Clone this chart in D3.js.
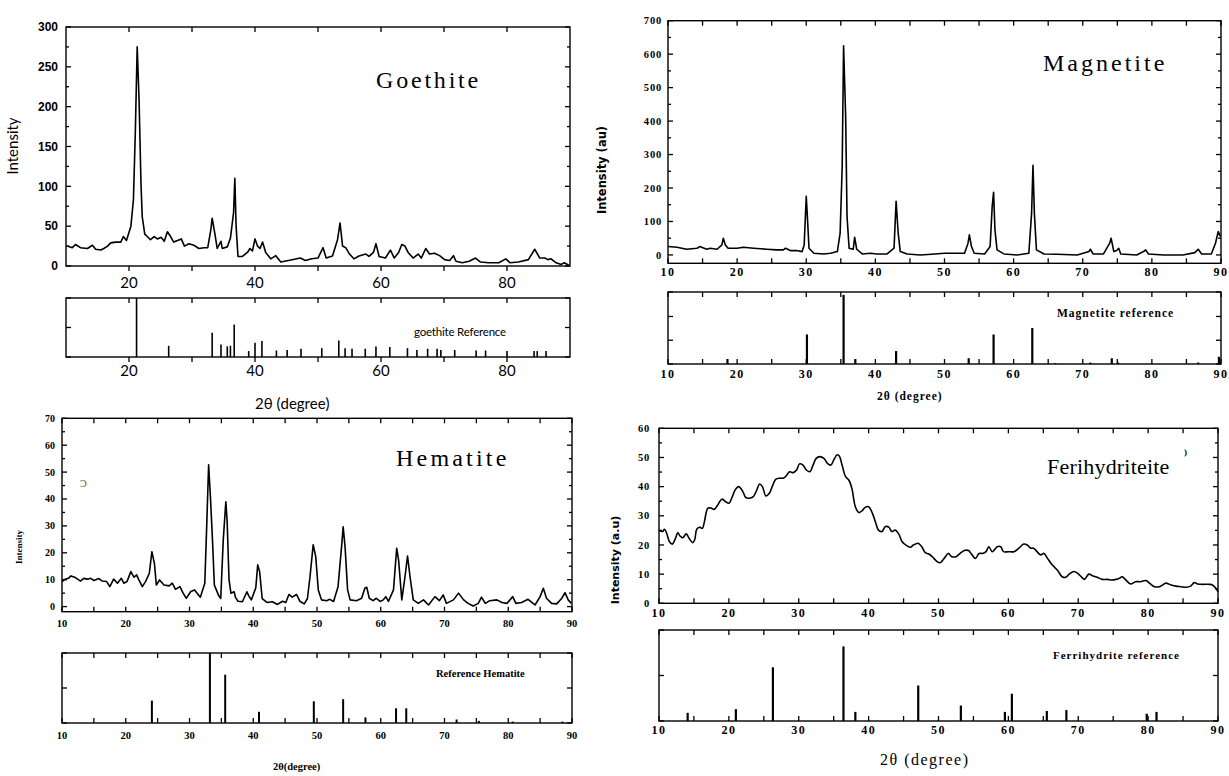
<!DOCTYPE html>
<html>
<head>
<meta charset="utf-8">
<script src="https://cdn.jsdelivr.net/npm/d3@7"></script>
<style>
  body { margin: 0; background: #fff; }
  svg { display: block; }
</style>
</head>
<body>
<svg id="canvas" width="1229" height="776"></svg>
<script>
// ---- measured patterns, [2theta, intensity] ----
const goethitePattern = [[10.2,25],[11,23],[11.5,27],[12.3,23],[13.4,22],[14.2,26],[14.7,21],[15.5,20],[16,22],[16.6,25],[17.1,29],[17.9,30],[18.7,30],[19.1,37],[19.6,32],[20.3,50],[20.7,83],[21.0,167],[21.3,275],[21.6,208],[21.9,104],[22.1,62],[22.5,40],[22.9,37],[23.4,33],[24,37],[24.5,34],[25.1,36],[25.6,31],[26.1,43],[26.6,37],[27.1,30],[27.7,32],[28.3,34],[28.8,25],[29.5,28],[30.3,26],[31.1,22],[31.9,23],[32.5,23],[33.0,46],[33.2,60],[33.6,42],[34.0,22],[34.6,31],[34.8,22],[35.6,24],[36.1,35],[36.6,67],[36.8,110],[37.0,50],[37.3,12],[38.0,12],[38.8,17],[39.2,22],[39.6,19],[40.0,34],[40.4,25],[40.8,22],[41.2,30],[41.7,17],[42.5,9],[43.3,13],[44.1,5],[45.7,7.5],[47.2,10],[48,7],[49,9],[50,10],[50.8,23],[51.3,10],[52.3,12.5],[53.1,33],[53.5,54],[53.9,25],[54.4,23],[55,15],[55.7,9],[56.5,12.5],[57.6,15],[58.1,12],[58.8,17],[59.2,28],[59.7,12],[60.7,10],[61.5,20],[62.1,10],[62.8,17],[63.3,27],[63.8,25],[64.3,17],[65.1,10],[65.9,15],[66.4,10],[67.1,22],[67.7,15],[68.5,16],[69.3,13],[70.1,8],[70.9,7],[71.5,13],[71.9,6],[72.9,4],[74,6],[75,10],[75.8,5],[77.1,4],[78.7,4],[79.8,9],[80.5,4],[81.8,5],[83.4,8],[84.4,21],[85.2,10],[86,10],[86.5,8],[87,9],[87.8,4],[88.6,2],[89.1,4],[89.8,1]];

const magnetitePattern = [[10,25],[11.3,23],[12.7,17],[14.2,20],[14.6,25],[15.6,17],[16.1,20],[17.1,17],[17.8,30],[18.0,50],[18.3,30],[18.7,20],[20,20],[20.9,23],[22.4,20],[24.3,17],[25.7,15],[26.7,15],[27,20],[27.7,13],[28.6,13],[29.4,10],[29.7,30],[30.0,175],[30.2,100],[30.4,20],[31.1,5],[32.5,3],[33.5,5],[34.5,10],[34.9,65],[35.2,265],[35.4,625],[35.7,415],[35.9,115],[36.2,20],[36.8,17],[37.0,53],[37.3,17],[38.1,3],[39.3,5],[40.2,3],[41.7,3],[42.7,20],[43.0,160],[43.3,65],[43.6,10],[44.6,3],[46.5,0],[48.1,2],[50,5],[52.9,5],[53.4,35],[53.6,60],[53.9,25],[54.3,5],[55.8,3],[56.6,25],[56.9,145],[57.1,187],[57.3,75],[57.6,15],[58.6,3],[60.5,0],[62.2,5],[62.6,125],[62.8,268],[63.0,125],[63.3,15],[64.4,3],[66.3,2],[69.2,0],[70.9,10],[71.1,17],[71.5,3],[73,3],[73.9,35],[74.1,50],[74.5,10],[74.9,13],[75.2,20],[75.5,3],[77.8,0],[78.8,10],[79.1,15],[79.5,3],[81.7,0],[84.5,0],[86.2,7],[86.7,17],[87.2,3],[88.6,3],[89.2,35],[89.6,70],[89.9,55]];

const hematitePattern = [[10,9.3],[10.5,10.2],[11.0,10.5],[11.4,11.4],[12.1,10.8],[12.9,9.5],[13.4,10.5],[14.0,10.2],[14.5,10.5],[15.0,9.7],[15.8,10.4],[16.3,9.5],[17.0,9.3],[17.5,7.4],[18.1,10.2],[18.7,8.7],[19.3,10.5],[19.7,8.7],[20.2,9.3],[20.8,13],[21.3,10.9],[21.7,11.8],[22.0,10.2],[22.6,7.4],[23.1,9.3],[23.7,12.4],[24.1,20.4],[24.5,16],[24.8,8],[25.3,9.9],[26.0,8],[26.8,7.7],[27.3,8.7],[27.8,6.4],[28.5,7.4],[29.0,5],[29.5,3.1],[30.2,5.6],[30.8,6.2],[31.2,5],[31.7,3.5],[32.4,8.7],[32.7,30],[33.0,52.7],[33.3,40],[33.6,25],[33.9,8],[34.6,4],[34.9,3],[35.3,25],[35.7,39],[35.9,32],[36.2,10],[36.5,5],[37.0,5.5],[37.2,3.5],[37.6,2],[38.3,1.8],[39.0,5.5],[39.3,4],[39.7,2.5],[40.4,7],[40.7,15.5],[41.0,13],[41.4,3],[42.2,1.5],[43.0,1.8],[43.8,0.8],[44.6,2],[45.1,1.5],[45.6,4.5],[46.1,3.5],[46.8,4.5],[47.3,2],[48.0,1],[48.5,3],[48.9,11],[49.4,23],[49.8,18.6],[50.2,6.2],[50.7,2.5],[51.5,2.2],[52,2.7],[52.6,1.9],[53.3,7.4],[53.9,23.5],[54.1,29.7],[54.4,22.3],[54.8,6.2],[55.2,2.5],[56.2,2.2],[57.0,3.1],[57.5,6.8],[57.8,7.2],[58.2,3.1],[58.8,2.2],[59.3,3.1],[59.9,1.9],[60.4,2.5],[60.8,3.7],[61.2,1.9],[62.0,6.2],[62.5,21.7],[62.8,17.3],[63.3,2.5],[63.8,11],[64.2,18.8],[64.6,11],[65.1,2.5],[65.9,1.2],[66.7,2.5],[67.5,0.6],[68.5,3.7],[69.2,2.2],[69.8,4.3],[70.3,1.2],[71.4,2.5],[72.2,5],[73.0,2.5],[73.7,1.2],[74.5,0.2],[75.3,1.2],[75.8,3.5],[76.4,1.2],[77.1,2.2],[78.2,2.5],[79.0,1.5],[79.8,1.2],[80.7,3.7],[81.2,1.2],[82.1,1.5],[83.1,2.7],[84.2,0.6],[85.0,3.7],[85.5,6.8],[86.0,3.1],[86.8,1.2],[87.6,1],[88.4,3.1],[88.9,5.2],[89.4,2.5],[89.9,1.2]];

const ferrihydritePattern = [[10,25.1],[10.5,24.6],[10.8,25.4],[11.1,24],[11.5,21.1],[11.9,20.3],[12.3,21.9],[12.7,24.2],[13,23.1],[13.4,22.5],[13.9,23.8],[14.3,22.3],[14.8,20.8],[15.1,21.7],[15.4,25.4],[15.8,26.1],[16.2,25.7],[16.5,28],[17,32.6],[17.5,32.6],[17.9,32.2],[18.4,33.7],[19,35.7],[19.5,34.9],[20,34.3],[20.5,36.6],[20.9,38.9],[21.4,40],[22,38.3],[22.4,36.3],[22.9,36],[23.5,36.6],[24,38.9],[24.4,40.9],[24.8,40],[25.3,36.8],[25.8,37.7],[26.2,40],[26.7,42.5],[27.3,42.9],[27.8,42.9],[28.2,43.7],[28.7,45.1],[29.2,44.8],[29.7,45.7],[30.1,47.8],[30.6,47.4],[31.1,45.7],[31.6,45.1],[32,47.1],[32.5,49.7],[33,50.3],[33.6,49.7],[34.1,48],[34.6,47.4],[35,49.1],[35.5,50.9],[35.8,50.5],[36.2,47.4],[36.7,43.4],[37.2,42.1],[37.6,39.4],[38.1,33.1],[38.6,31.1],[39.1,31.8],[39.5,32.9],[40,33.1],[40.5,31.1],[41,27.7],[41.4,25.1],[41.9,24.6],[42.4,26.3],[42.9,26.1],[43.3,24.6],[43.8,25.1],[44.3,23.8],[44.8,21.1],[45.5,19.7],[46,19.2],[46.4,20],[47.1,20.6],[47.6,19.4],[48.1,17.4],[48.6,16.9],[49.1,16],[49.8,14.3],[50.2,13.9],[51,16],[51.4,17.1],[51.9,16],[52.5,16],[53.1,17.1],[53.7,18.1],[54.3,18.1],[54.8,16.6],[55.3,15.4],[55.8,17.1],[56.3,17.1],[56.8,17.7],[57.2,19.4],[57.7,17.7],[58.4,19.4],[58.9,19.4],[59.3,17.7],[60,17.7],[60.8,17.7],[61.5,18.9],[62.2,20.3],[62.7,20],[63.2,18.9],[63.6,18.9],[64.1,17.7],[64.6,16.6],[65.1,17.1],[65.6,15.4],[66.3,13.1],[67,11.4],[67.7,9.1],[68.2,8.9],[68.7,10],[69.4,10.9],[69.9,10.3],[70.5,8.9],[70.9,8.2],[71.5,10],[72.1,9.4],[72.7,8.9],[73.4,8.2],[74.2,8.2],[74.8,8],[75.4,8.2],[75.9,8.6],[76.3,9.1],[76.8,8],[77.5,6.6],[78.2,7.4],[78.9,7.4],[79.7,7.8],[80.2,6.9],[80.9,5.7],[81.6,5.7],[82.1,6.3],[82.5,6.9],[83.3,6.3],[84,5.9],[84.7,5.7],[85.4,5.5],[86.1,5.9],[86.6,7.1],[87.1,6.6],[87.8,6.5],[88.8,6.5],[89.2,6.3],[89.7,5.1],[90,4]];

// ---- reference stick patterns, [2theta, relative height %] ----
const goethiteRef = [[21.2,100],[26.3,19],[33.2,41],[34.6,21],[35.6,18],[36.1,19],[36.7,55],[39.0,10],[40.0,24],[41.1,27],[43.4,11],[45.1,12],[47.3,14],[50.6,15],[53.3,28],[54.3,15],[55.4,14],[57.5,14],[59.2,18],[61.4,17],[64.2,15],[65.7,12],[67.4,14],[68.9,14],[69.5,12],[71.7,12],[75.1,11],[76.6,11],[80.0,10],[84.3,10],[84.8,10],[86.2,10]];
const magnetiteRef = [[18.6,7],[30.1,41],[35.4,96],[37.1,7],[43.0,18],[53.5,8],[57.1,41],[62.7,50],[66.0,1],[71.1,2],[74.2,8],[75.1,2],[86.7,2],[89.7,10]];
const hematiteRef = [[24.1,32],[33.2,100],[35.6,69],[40.9,16],[49.5,31],[54.1,34],[57.6,8],[62.4,21],[64.0,21],[71.9,5],[75.4,3],[80.7,2],[88.5,2]];
const ferrihydriteRef = [[14.1,9],[21.0,13],[26.3,59],[36.4,82],[38.1,10],[47.1,39],[53.2,17],[59.5,10],[60.5,30],[65.5,11],[68.3,12],[79.8,8],[81.2,10]];

// ---- tick values ----
const goethiteXLabels = [20, 40, 60, 80];
const goethiteYLabels = [0, 50, 100, 150, 200, 250, 300];
const magnetiteYLabels = [0, 100, 200, 300, 400, 500, 600, 700];
const hematiteYLabels = [0, 10, 20, 30, 40, 50, 60, 70];
const ferrihydriteYLabels = [0, 10, 20, 30, 40, 50, 60];
const decadeLabels = [10, 20, 30, 40, 50, 60, 70, 80, 90];

const canvas = d3.select("#canvas");
const serif = "'Liberation Serif','Times New Roman',serif";
const sans = "Lato,'Open Sans',sans-serif";
const arial = "'Liberation Sans',Arial,sans-serif";

//Draws one framed box: border plus ticks on all four sides
const drawFrame = (g, x, y, o) => {
    const [x0, x1] = x.range();
    const [yb, yt] = y.range();
    g.append("rect")
        .attr("x", x0).attr("y", yt)
        .attr("width", x1 - x0).attr("height", yb - yt)
        .attr("fill", "none").attr("stroke", "#000").attr("stroke-width", 1.4);

    //ticks on x: bottom and top
    const xt = o.xTicks;
    g.selectAll(null).data(xt).enter().append("line")
        .attr("x1", d => x(d)).attr("x2", d => x(d))
        .attr("y1", yb).attr("y2", yb + (o.bottomOut ? 5 : -5))
        .attr("stroke", "#000").attr("stroke-width", 1.3);
    g.selectAll(null).data(xt).enter().append("line")
        .attr("x1", d => x(d)).attr("x2", d => x(d))
        .attr("y1", yt).attr("y2", yt + 5)
        .attr("stroke", "#000").attr("stroke-width", 1.3);

    //ticks on y: left and right, pointing inside
    const yt2 = o.yTicks;
    g.selectAll(null).data(yt2).enter().append("line")
        .attr("x1", x0).attr("x2", d => x0 + (o.yMajor.includes(d) ? 5 : 3))
        .attr("y1", d => y(d)).attr("y2", d => y(d))
        .attr("stroke", "#000").attr("stroke-width", 1.3);
    g.selectAll(null).data(yt2).enter().append("line")
        .attr("x1", x1).attr("x2", d => x1 - (o.yMajor.includes(d) ? 5 : 3))
        .attr("y1", d => y(d)).attr("y2", d => y(d))
        .attr("stroke", "#000").attr("stroke-width", 1.3);

    //x tick labels
    if (o.xLabels) {
        g.selectAll(null).data(o.xLabels).enter().append("text")
            .attr("x", d => x(d)).attr("y", yb + o.xLabelDy)
            .attr("text-anchor", "middle")
            .style("font-family", o.font).style("font-size", o.xFontSize + "px")
            .style("font-weight", o.bold ? "bold" : "normal")
            .style("letter-spacing", o.spacing || "0px")
            .text(d => d);
    }
    //y tick labels
    if (o.yLabels) {
        g.selectAll(null).data(o.yLabels).enter().append("text")
            .attr("x", x0 - o.yLabelDx).attr("y", d => y(d))
            .attr("dy", "0.35em").attr("text-anchor", "end")
            .style("font-family", o.yFont || o.font).style("font-size", o.yFontSize + "px")
            .style("font-weight", "bold")
            .style("letter-spacing", o.ySpacing || "0px")
            .text(d => d);
    }
};

const drawCurve = (g, x, y, data, curve) => {
    g.append("path")
        .datum(data)
        .attr("d", d3.line().x(d => x(d[0])).y(d => y(d[1])).curve(curve || d3.curveLinear))
        .attr("fill", "none").attr("stroke", "#000").attr("stroke-width", 1.6)
        .attr("stroke-linejoin", "round");
};

const drawSticks = (g, x, y, data, w) => {
    g.selectAll(null).data(data).enter().append("line")
        .attr("x1", d => x(d[0])).attr("x2", d => x(d[0]))
        .attr("y1", y(0)).attr("y2", d => y(d[1]))
        .attr("stroke", "#000").attr("stroke-width", w);
};

const label = (x, y, txt, font, size, weight, spacing, rotate) => {
    const t = canvas.append("text")
        .attr("x", x).attr("y", y)
        .style("font-family", font).style("font-size", size + "px")
        .style("font-weight", weight || "normal")
        .style("letter-spacing", spacing || "0px")
        .text(txt);
    if (rotate) {
        t.attr("text-anchor", "middle").attr("transform", `rotate(-90,${x},${y})`);
    }
    return t;
};

const every = (a, b, s) => d3.range(a, b + s / 2, s);

// ================= Goethite =================
{
    const g = canvas.append("g");
    const x = d3.scaleLinear().domain([10, 90]).range([66, 570]);
    const y = d3.scaleLinear().domain([0, 300]).range([266, 27]);
    drawCurve(g, x, y, goethitePattern);
    drawFrame(g, x, y, {
        xTicks: every(20, 80, 10), bottomOut: true,
        yTicks: every(0, 300, 25), yMajor: goethiteYLabels,
        xLabels: goethiteXLabels, xLabelDy: 22, xFontSize: 15, font: sans,
        yLabels: goethiteYLabels, yLabelDx: 8, yFontSize: 12, yFont: arial
    });
    label(18, 146, "Intensity", sans, 15, "normal", "0px", true);
    label(376, 88, "Goethite", serif, 24, "normal", "2.8px");

    const yr = d3.scaleLinear().domain([0, 100]).range([357, 298]);
    drawSticks(g, x, yr, goethiteRef, 1.6);
    drawFrame(g, x, yr, {
        xTicks: every(20, 80, 10), bottomOut: true,
        yTicks: [0, 50, 100], yMajor: [0, 50, 100],
        xLabels: goethiteXLabels, xLabelDy: 19, xFontSize: 15, font: sans
    });
    label(414, 336, "goethite Reference", sans, 11.5, "normal", "-0.2px");
    label(255, 409, "2θ (degree)", sans, 15);
}

// ================= Magnetite =================
{
    const g = canvas.append("g");
    const x = d3.scaleLinear().domain([10, 90]).range([668, 1221]);
    const y = d3.scaleLinear().domain([-25, 700]).range([263.3, 20.7]);
    drawCurve(g, x, y, magnetitePattern);
    drawFrame(g, x, y, {
        xTicks: every(10, 90, 5),
        yTicks: every(0, 700, 50), yMajor: magnetiteYLabels,
        xLabels: decadeLabels, xLabelDy: 13, xFontSize: 12, font: serif, bold: true, spacing: "1.5px",
        yLabels: magnetiteYLabels, yLabelDx: 6, yFontSize: 10.5, ySpacing: "0.8px"
    });
    label(606, 170, "Intensity (au)", "'DejaVu Sans',sans-serif", 11.5, "bold", "0px", true);
    label(1043, 71, "Magnetite", serif, 24, "normal", "3px");

    const yr = d3.scaleLinear().domain([0, 100]).range([364, 292]);
    drawSticks(g, x, yr, magnetiteRef, 2.2);
    drawFrame(g, x, yr, {
        xTicks: every(10, 90, 5),
        yTicks: [0, 33, 66, 100], yMajor: [0, 33, 66, 100],
        xLabels: decadeLabels, xLabelDy: 14, xFontSize: 12, font: serif, bold: true, spacing: "1.5px"
    });
    label(1057, 317, "Magnetite reference", serif, 11.5, "bold", "1px");
    label(877, 400, "2θ (degree)", serif, 11.5, "bold", "1px");
}

// ================= Hematite =================
{
    const g = canvas.append("g");
    const x = d3.scaleLinear().domain([10, 90]).range([62, 572]);
    const y = d3.scaleLinear().domain([-1.9, 70]).range([611.7, 418.3]);
    drawCurve(g, x, y, hematitePattern);
    drawFrame(g, x, y, {
        xTicks: every(10, 90, 5),
        yTicks: every(0, 70, 5), yMajor: hematiteYLabels,
        xLabels: decadeLabels, xLabelDy: 15, xFontSize: 10.5, font: serif, bold: true,
        yLabels: hematiteYLabels, yLabelDx: 7, yFontSize: 10
    });
    label(22, 547, "Intensity", serif, 9, "bold", "0px", true);
    label(396, 466, "Hematite", serif, 24, "normal", "3.2px");
    label(80, 487, "Ɔ", serif, 10, "normal").attr("fill", "#555");

    const yr = d3.scaleLinear().domain([0, 100]).range([723, 653]);
    drawSticks(g, x, yr, hematiteRef, 2);
    drawFrame(g, x, yr, {
        xTicks: every(10, 90, 5),
        yTicks: [0, 50, 100], yMajor: [0, 50, 100],
        xLabels: decadeLabels, xLabelDy: 16, xFontSize: 10.5, font: serif, bold: true
    });
    label(436, 677, "Reference Hematite", serif, 10.5, "bold");
    label(273, 770, "2θ(degree)", serif, 10.5, "bold");
}

// ================= Ferrihydrite =================
{
    const g = canvas.append("g");
    const x = d3.scaleLinear().domain([10, 90]).range([659, 1218]);
    const y = d3.scaleLinear().domain([0, 60]).range([603.3, 428.3]);
    drawCurve(g, x, y, ferrihydritePattern, d3.curveCatmullRom);
    drawFrame(g, x, y, {
        xTicks: every(10, 90, 5),
        yTicks: every(0, 60, 5), yMajor: ferrihydriteYLabels,
        xLabels: decadeLabels, xLabelDy: 14, xFontSize: 12, font: serif, bold: true, spacing: "1.5px",
        yLabels: ferrihydriteYLabels, yLabelDx: 9, yFontSize: 10.5, ySpacing: "0.8px"
    });
    label(619, 560, "Intensity (a.u)", "'DejaVu Sans',sans-serif", 11, "bold", "0px", true);
    label(1047, 474, "Ferihydriteite", serif, 22, "normal", "0.2px");
    label(1184, 455, ")", serif, 9, "bold");

    const yr = d3.scaleLinear().domain([0, 100]).range([721, 630]);
    drawSticks(g, x, yr, ferrihydriteRef, 2.2);
    drawFrame(g, x, yr, {
        xTicks: every(10, 90, 5),
        yTicks: [0, 50, 100], yMajor: [0, 50, 100],
        xLabels: decadeLabels, xLabelDy: 13, xFontSize: 12, font: serif, bold: true, spacing: "1.5px"
    });
    label(1053, 659, "Ferrihydrite reference", serif, 11, "bold", "1px");
    label(880, 765, "2θ (degree)", serif, 16, "normal", "1.5px");
}
</script>
</body>
</html>
